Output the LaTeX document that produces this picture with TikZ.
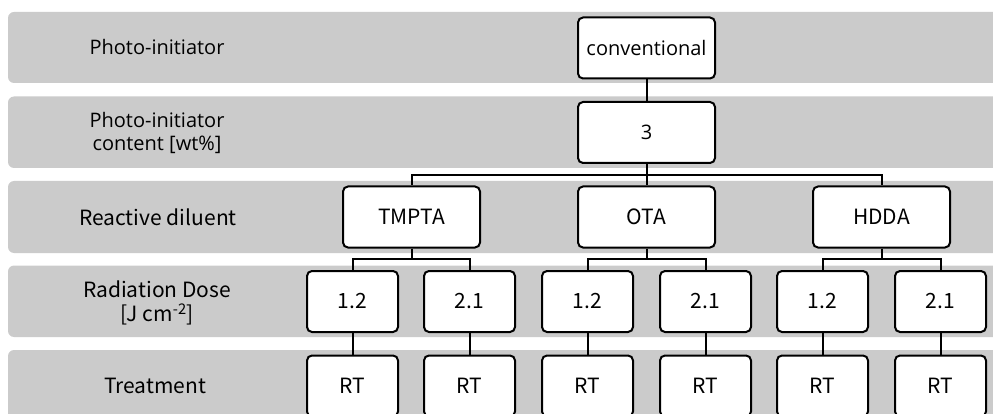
\documentclass[tikz,border=0pt]{standalone}
\usepackage{fontspec}
\setmainfont{Open Sans}
\newfontfamily\srcfont{Noto Sans CJK SC}
\definecolor{bandgray}{HTML}{CBCBCB}
\begin{document}
\begin{tikzpicture}[x=1pt,y=-1pt,
  band/.style={fill=bandgray, draw=none, rounded corners=6pt},
  lbl/.style={align=center, inner sep=0pt, font=\fontsize{20}{23.5}\selectfont},
  lblb/.style={align=center, inner sep=0pt, font=\srcfont\fontsize{21}{24}\selectfont},
  bigbox/.style={draw=black, line width=2pt, rounded corners=5pt, fill=white,
    minimum width=137pt, minimum height=61pt, inner sep=0pt},
  smallbox/.style={draw=black, line width=2pt, rounded corners=5pt, fill=white,
    minimum width=91pt, minimum height=61pt, inner sep=0pt, font=\srcfont\fontsize{21}{24}\selectfont},
  conn/.style={draw=black, line width=2pt}]
\useasboundingbox (0,0) rectangle (993,414);
\clip (0,0) rectangle (993,414);
% bands
\fill[band] (8,12) rectangle (1010,83);
\fill[band] (8,96.5) rectangle (1010,168);
\fill[band] (8,181) rectangle (1010,253);
\fill[band] (8,265.5) rectangle (1010,337);
\fill[band] (8,350) rectangle (1010,430);
% row labels
\node[lbl] (l1) at (157,47) {Photo-initiator};
\node[lbl] (l2) at (157,133) {Photo-initiator\\content [wt\%]};
\node[lblb] (l3) at (158,217) {Reactive diluent};
\node[lblb] (l4) at (157,303) {Radiation Dose\\{}[J cm\textsuperscript{-2}]};
\node[lblb] (l5) at (155,386) {Treatment};
% boxes
\node[bigbox, font=\fontsize{20}{24}\selectfont] (conv) at (646.5,48) {conventional};
\node[bigbox, font=\fontsize{20}{24}\selectfont] (three) at (646.5,132.5) {3};
\node[bigbox, font=\srcfont\fontsize{21}{24}\selectfont] (tmpta) at (411.5,217) {TMPTA};
\node[bigbox, font=\srcfont\fontsize{21}{24}\selectfont] (ota) at (646.5,217) {OTA};
\node[bigbox, font=\srcfont\fontsize{21}{24}\selectfont] (hdda) at (881.5,217) {HDDA};
\node[smallbox] (d1) at (352.5,301.5) {1.2};
\node[smallbox] (d2) at (469.5,301.5) {2.1};
\node[smallbox] (d3) at (587.5,301.5) {1.2};
\node[smallbox] (d4) at (705.5,301.5) {2.1};
\node[smallbox] (d5) at (822.5,301.5) {1.2};
\node[smallbox] (d6) at (940.5,301.5) {2.1};
\node[smallbox] (r1) at (352.5,386) {RT};
\node[smallbox] (r2) at (469.5,386) {RT};
\node[smallbox] (r3) at (587.5,386) {RT};
\node[smallbox] (r4) at (705.5,386) {RT};
\node[smallbox] (r5) at (822.5,386) {RT};
\node[smallbox] (r6) at (940.5,386) {RT};
% connectors
\coordinate (bus0) at (646.5,175);
\coordinate (busT) at (411.5,259);
\coordinate (busO) at (646.5,259);
\coordinate (busH) at (881.5,259);
\draw[conn] (conv) -- (three);
\draw[conn] (three) -- (bus0);
\draw[conn] (bus0) -| (tmpta);
\draw[conn] (bus0) -| (hdda);
\draw[conn] (bus0) -- (ota);
\draw[conn] (tmpta) -- (busT);
\draw[conn] (busT) -| (d1);
\draw[conn] (busT) -| (d2);
\draw[conn] (ota) -- (busO);
\draw[conn] (busO) -| (d3);
\draw[conn] (busO) -| (d4);
\draw[conn] (hdda) -- (busH);
\draw[conn] (busH) -| (d5);
\draw[conn] (busH) -| (d6);
\draw[conn] (d1) -- (r1);
\draw[conn] (d2) -- (r2);
\draw[conn] (d3) -- (r3);
\draw[conn] (d4) -- (r4);
\draw[conn] (d5) -- (r5);
\draw[conn] (d6) -- (r6);
\end{tikzpicture}
\end{document}
